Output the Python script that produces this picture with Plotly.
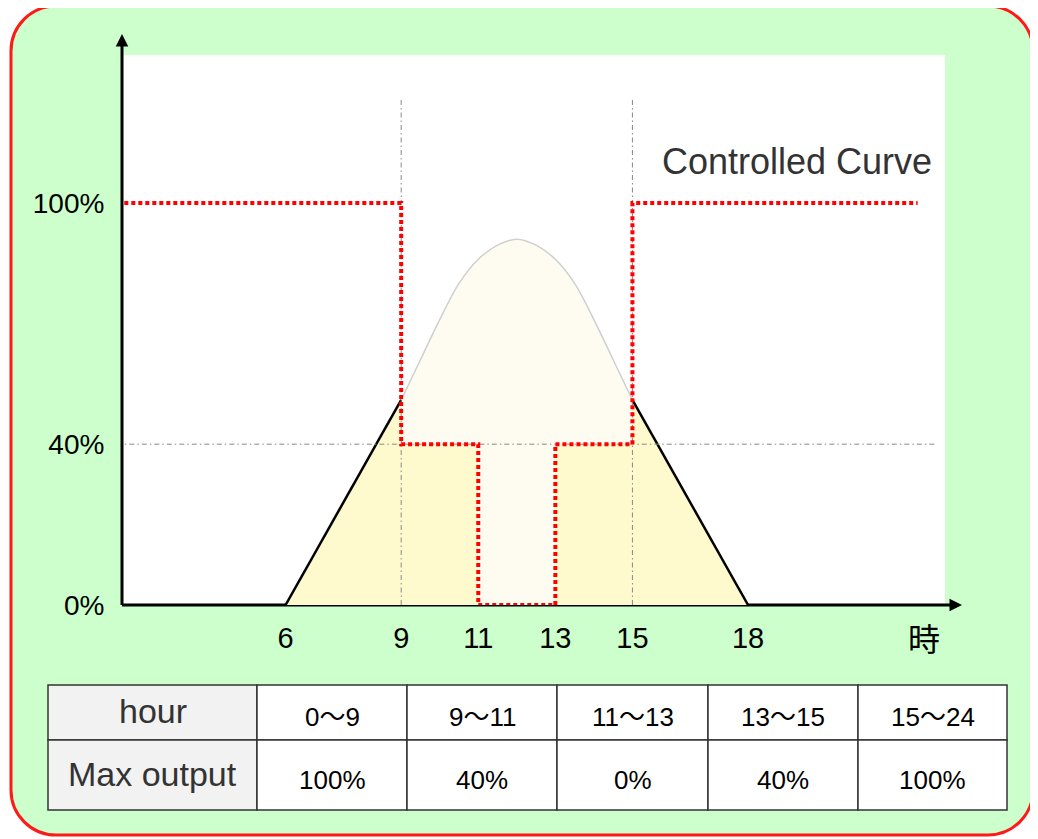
import plotly.graph_objects as go

# ---- data ----
hours_ticks = [6, 9, 11, 13, 15, 18]
pct_ticks = [0, 40, 100]
pct_labels = ["0%", "40%", "100%"]

# uncontrolled generation curve (sunrise 6h, sunset 18h)
ramp_up_x = [6, 9]
ramp_up_y = [0, 51]
ramp_down_x = [15, 18]
ramp_down_y = [51, 0]
curve_x = [9, 9.5, 10, 10.5, 11, 11.5, 12, 12.5, 13, 13.5, 14, 14.5, 15]
curve_y = [51, 61, 71, 80, 86, 89.5, 91, 89.5, 86, 80, 71, 61, 51]

# output limit (controlled curve)
limit_x = [0, 9, 9, 11, 11, 13, 13, 15, 15, 22.4]
limit_y = [100, 100, 40, 40, 0, 0, 40, 40, 100, 100]

# generation after limit
ctrl_x = [6, 9, 9, 11, 11, 13, 13, 15, 15, 18]
ctrl_y = [0, 51, 40, 40, 0, 0, 40, 40, 51, 0]

# guide lines
guide_v = [9, 15]
guide_top = 125.6
guide_h = 40
guide_h_end = 22.86

table_rows = ["hour", "Max output"]
hour_ranges = ["0〜9", "9〜11", "11〜13", "13〜15", "15〜24"]
max_output = ["100%", "40%", "0%", "40%", "100%"]

# ---- page geometry (pixels of the page; the page body adds an 8px margin) ----
OFF = 8
PAGE_W, PAGE_H = 1038, 839
W, H = PAGE_W - OFF, PAGE_H - OFF
L, R, T, B = 122, 945, 55, 605


def fx(px):
    return (px - L) / (R - L)


def fy(py):
    return (B - py) / (B - T)


fig = go.Figure()

fig.add_trace(go.Scatter(x=curve_x, y=curve_y, mode="lines", line_shape="spline",
                         line=dict(color="#cfcfcf", width=1.5),
                         fill="tozeroy", fillcolor="#fefcf0", hoverinfo="skip"))
fig.add_trace(go.Scatter(x=ctrl_x, y=ctrl_y, mode="lines", line=dict(width=0),
                         fill="tozeroy", fillcolor="#fffacd", hoverinfo="skip"))
for xs, ys in [(ramp_up_x, ramp_up_y), (ramp_down_x, ramp_down_y)]:
    fig.add_trace(go.Scatter(x=xs, y=ys, mode="lines",
                             line=dict(color="black", width=2.5), hoverinfo="skip"))

gx, gy = [], []
for v in guide_v:
    gx += [v, v, None]
    gy += [0, guide_top, None]
gx += [0, guide_h_end]
gy += [guide_h, guide_h]
fig.add_trace(go.Scatter(x=gx, y=gy, mode="lines",
                         line=dict(color="#888888", width=1, dash="5px,3px,1.5px,3px"),
                         hoverinfo="skip"))

fig.add_trace(go.Scatter(x=limit_x, y=limit_y, mode="lines",
                         line=dict(color="#ff0000", width=4, dash="4px,3px"),
                         hoverinfo="skip"))

# ---- background: rounded green panel, white plot area, axes ----
rl, rr, rt, rb, rad = 11, 1033, 6, 835, 45
k = 0.5523 * rad


def pt(px, py):
    return f"{fx(px):.5f},{fy(py):.5f}"


path = (f"M{pt(rl + rad, rt)} L{pt(rr - rad, rt)} "
        f"C{pt(rr - rad + k, rt)} {pt(rr, rt + rad - k)} {pt(rr, rt + rad)} "
        f"L{pt(rr, rb - rad)} "
        f"C{pt(rr, rb - rad + k)} {pt(rr - rad + k, rb)} {pt(rr - rad, rb)} "
        f"L{pt(rl + rad, rb)} "
        f"C{pt(rl + rad - k, rb)} {pt(rl, rb - rad + k)} {pt(rl, rb - rad)} "
        f"L{pt(rl, rt + rad)} "
        f"C{pt(rl, rt + rad - k)} {pt(rl + rad - k, rt)} {pt(rl + rad, rt)} Z")

shapes = [
    dict(type="path", path=path, xref="paper", yref="paper", layer="below",
         fillcolor="#ccffcc", line=dict(color="#ff1a1a", width=3)),
    dict(type="rect", xref="paper", yref="paper", x0=0, x1=1, y0=0, y1=1,
         layer="below", fillcolor="white", line=dict(width=0)),
    dict(type="line", xref="paper", yref="paper", x0=0, x1=0, y0=0, y1=fy(40),
         layer="below", line=dict(color="black", width=3)),
    dict(type="line", xref="paper", yref="paper", x0=0, x1=fx(955), y0=0, y1=0,
         layer="below", line=dict(color="black", width=3)),
]

annotations = [
    dict(xref="paper", yref="paper", x=0, y=fy(34), ax=0, ay=14, text="",
         showarrow=True, arrowhead=2, arrowsize=1, arrowwidth=2.5, arrowcolor="black"),
    dict(xref="paper", yref="paper", x=fx(962), y=0, ax=-14, ay=0, text="",
         showarrow=True, arrowhead=2, arrowsize=1, arrowwidth=2.5, arrowcolor="black"),
    dict(xref="paper", yref="paper", x=fx(660), y=fy(161), xanchor="left", yanchor="middle",
         text="Controlled Curve", showarrow=False, bgcolor="white",
         font=dict(family="Liberation Sans, Arial", size=36, color="#333333")),
    dict(xref="paper", yref="paper", x=fx(924), y=fy(637), xanchor="center", yanchor="middle",
         text="時", showarrow=False,
         font=dict(family="Noto Sans CJK JP", size=32, color="black")),
]

# ---- table under the chart ----
col_edges = [48, 257, 407, 557, 708, 858, 1007]
row_edges = [685, 740, 810]
row_text_y = [714, 777]
for c in range(len(col_edges) - 1):
    for r in range(len(row_edges) - 1):
        shapes.append(dict(type="rect", xref="paper", yref="paper",
                           x0=fx(col_edges[c]), x1=fx(col_edges[c + 1]),
                           y0=fy(row_edges[r + 1]), y1=fy(row_edges[r]),
                           fillcolor="#f2f2f2" if c == 0 else "white",
                           line=dict(color="#333333", width=1.5), layer="below"))
        if c == 0:
            txt = table_rows[r]
            font = dict(family="Liberation Sans, Arial", size=34, color="#333333")
            ty = row_text_y[r] - 3
        else:
            txt = (hour_ranges if r == 0 else max_output)[c - 1]
            font = dict(family="Liberation Sans, Noto Sans CJK JP", size=26, color="black")
            ty = row_text_y[r] + 3
        annotations.append(dict(xref="paper", yref="paper",
                                x=fx((col_edges[c] + col_edges[c + 1]) / 2), y=fy(ty),
                                xanchor="center", yanchor="middle", text=txt,
                                showarrow=False, font=font))

fig.update_layout(
    width=W, height=H,
    margin=dict(l=L - OFF, r=PAGE_W - R, t=T - OFF, b=PAGE_H - B, pad=0),
    paper_bgcolor="white", plot_bgcolor="rgba(0,0,0,0)",
    showlegend=False,
    shapes=shapes, annotations=annotations,
    xaxis=dict(range=[1.756, 23.11], tickvals=hours_ticks,
               ticktext=[str(h) for h in hours_ticks],
               ticks="outside", ticklen=7, tickcolor="rgba(0,0,0,0)",
               showgrid=False, zeroline=False, showline=False,
               tickfont=dict(family="Liberation Sans, Arial", size=29, color="black")),
    yaxis=dict(range=[0, 136.8], tickvals=pct_ticks, ticktext=pct_labels,
               ticks="outside", ticklen=11, tickcolor="rgba(0,0,0,0)",
               showgrid=False, zeroline=False, showline=False,
               tickfont=dict(family="Liberation Sans, Arial", size=28, color="black")),
)

fig.write_html("out.html")
